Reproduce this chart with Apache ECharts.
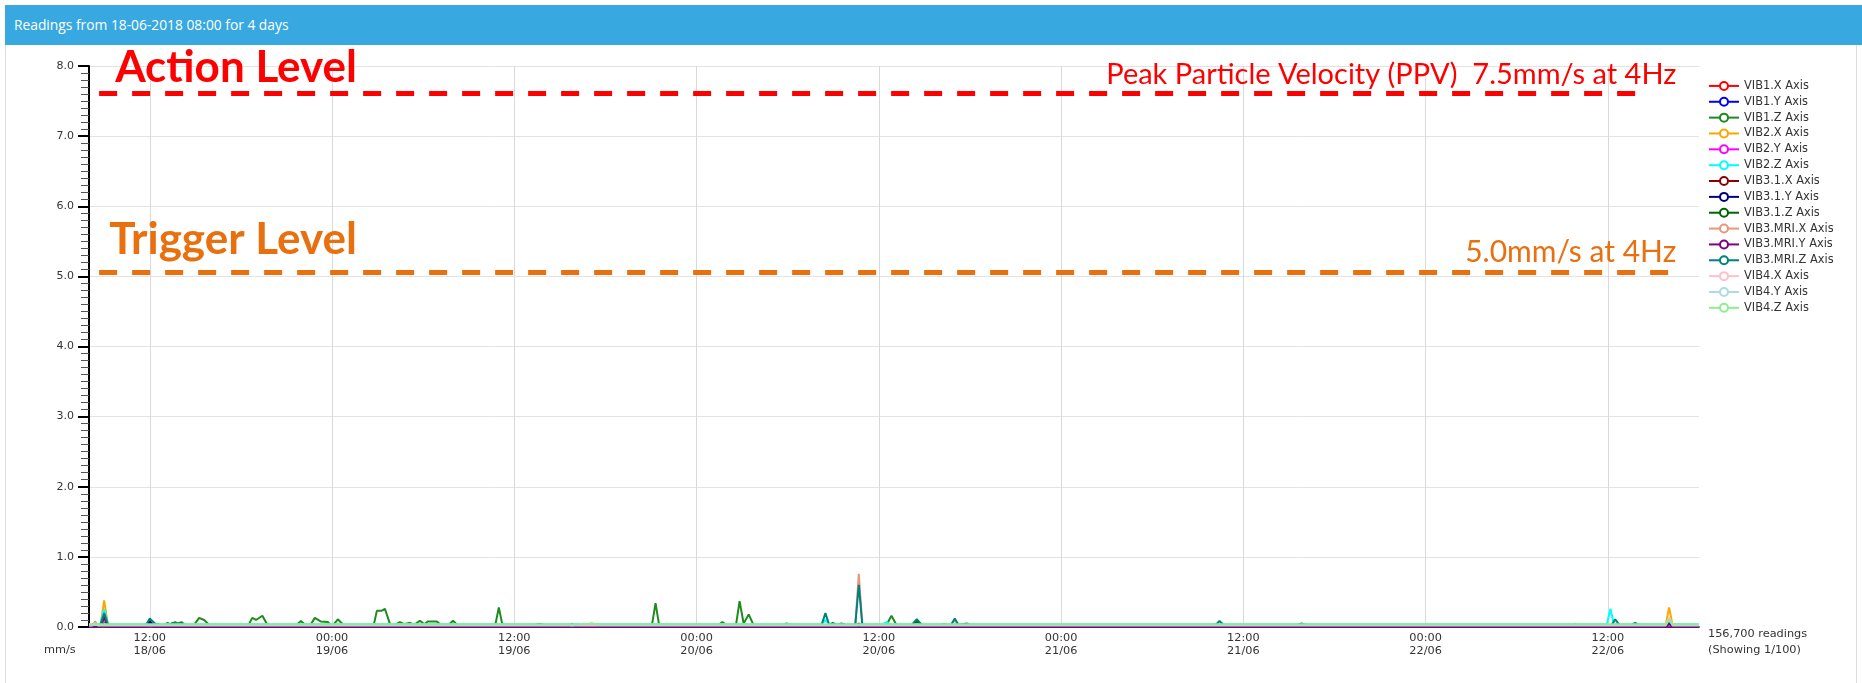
<!DOCTYPE html>
<html><head><meta charset="utf-8">
<script src="https://cdn.jsdelivr.net/npm/echarts@6/dist/echarts.min.js"></script>
<style>
html,body{margin:0;padding:0;background:#fff;width:1862px;height:683px;overflow:hidden;}
#panel{position:absolute;left:5px;top:5px;width:1852px;height:700px;border:1px solid #dcdcdc;box-sizing:border-box;}
#hdr{position:absolute;left:5px;top:5px;width:1857px;height:40px;background:#38a9e0;color:#fff;font:13.8px 'Open Sans',sans-serif;line-height:39px;padding-left:9px;box-sizing:border-box;}
#chart{position:absolute;left:0;top:0;width:1862px;height:683px;}
</style></head>
<body><div id="panel"></div><div id="hdr">Readings from 18-06-2018 08:00 for 4 days</div><div id="chart"></div>
<script>
// ---- data (times are "DD HH:mm" in June 2018) ----
const seriesNames = ['VIB1.X Axis','VIB1.Y Axis','VIB1.Z Axis','VIB2.X Axis','VIB2.Y Axis','VIB2.Z Axis','VIB3.1.X Axis','VIB3.1.Y Axis','VIB3.1.Z Axis','VIB3.MRI.X Axis','VIB3.MRI.Y Axis','VIB3.MRI.Z Axis','VIB4.X Axis','VIB4.Y Axis','VIB4.Z Axis'];
const seriesColors = ['#ff0000','#0000ff','#1f8a1f','#ffa500','#ff00ff','#00ffff','#8b0000','#000080','#006400','#e9967a','#800080','#008080','#ffc0cb','#add8e6','#90ee90'];
const xTickTimes = ['18 12:00','19 00:00','19 12:00','20 00:00','20 12:00','21 00:00','21 12:00','22 00:00','22 12:00'];
const xRange = ['18 08:00','22 18:00'];
const actionLevel = 7.61, triggerLevel = 5.06;

const vib1x = [['18 08:00',0.02],['20 10:30',0.02],['20 10:41',0.04],['20 10:52',0.02],['22 18:00',0.02]];
const vib1y = [['18 08:00',0.01],['22 18:00',0.01]];
const vib1z = [['18 08:00',0.03],
 ['18 13:00',0.03],['18 13:10',0.06],['18 13:25',0.03],['18 13:40',0.07],['18 13:55',0.04],['18 14:05',0.07],['18 14:20',0.03],
 ['18 14:55',0.03],['18 15:15',0.13],['18 15:35',0.1],['18 15:55',0.03],
 ['18 18:30',0.03],['18 18:45',0.13],['18 19:00',0.1],['18 19:25',0.16],['18 19:45',0.03],
 ['18 21:40',0.03],['18 21:57',0.085],['18 22:15',0.03],
 ['18 22:35',0.03],['18 22:52',0.13],['18 23:15',0.08],['18 23:44',0.07],['18 23:55',0.03],
 ['19 00:05',0.03],['19 00:23',0.11],['19 00:45',0.03],
 ['19 02:45',0.03],['19 02:57',0.23],['19 03:15',0.23],['19 03:29',0.26],['19 03:50',0.03],
 ['19 04:10',0.03],['19 04:28',0.07],['19 04:45',0.04],['19 05:08',0.06],['19 05:25',0.03],['19 05:47',0.09],['19 06:05',0.04],['19 06:18',0.08],['19 06:54',0.08],['19 07:10',0.03],
 ['19 07:40',0.03],['19 07:58',0.09],['19 08:15',0.03],
 ['19 10:45',0.03],['19 10:59',0.28],['19 11:13',0.03],
 ['19 21:04',0.03],['19 21:18',0.34],['19 21:32',0.03],
 ['20 01:28',0.03],['20 01:42',0.07],['20 01:56',0.03],
 ['20 02:36',0.03],['20 02:50',0.37],['20 03:06',0.05],['20 03:26',0.18],['20 03:45',0.03],
 ['20 05:40',0.03],['20 05:56',0.05],['20 06:10',0.03],
 ['20 12:30',0.03],['20 12:50',0.16],['20 13:10',0.03],
 ['20 14:15',0.03],['20 14:30',0.08],['20 14:45',0.03],
 ['22 18:00',0.03]];
const vib2x = [['18 08:00',0.02],['18 08:45',0.02],['18 09:00',0.38],['18 09:15',0.02],
 ['19 12:45',0.02],['19 13:00',0.04],['19 13:15',0.02],
 ['22 09:40',0.02],['22 09:52',0.05],['22 10:05',0.02],
 ['22 15:48',0.02],['22 16:02',0.28],['22 16:16',0.02],['22 18:00',0.02]];
const vib2y = [['18 08:00',0.01],['18 08:48',0.01],['18 09:00',0.13],['18 09:12',0.01],['22 18:00',0.01]];
const vib2z = [['18 08:00',0.04],['18 08:45',0.04],['18 09:00',0.25],['18 09:15',0.04],
 ['18 11:50',0.04],['18 12:05',0.07],['18 12:20',0.04],
 ['20 08:15',0.04],['20 08:29',0.1],['20 08:44',0.04],
 ['20 12:15',0.04],['20 12:30',0.07],['20 12:45',0.04],
 ['22 11:56',0.04],['22 12:10',0.26],['22 12:24',0.04],['22 18:00',0.04]];
const vib31x = [['18 08:00',0.01],['18 11:50',0.01],['18 12:00',0.05],['18 12:10',0.01],['22 18:00',0.01]];
const vib31y = [['18 08:00',0.01],['18 08:48',0.01],['18 09:00',0.1],['18 09:12',0.01],['18 11:48',0.01],['18 12:00',0.09],['18 12:15',0.01],['22 18:00',0.01]];
const vib31z = [['18 08:00',0.03],['19 13:25',0.03],['19 13:40',0.045],['19 13:55',0.03],['20 14:12',0.03],['20 14:30',0.08],['20 14:48',0.03],['22 18:00',0.03]];
const vibMrix = [['18 08:00',0.02],['18 08:15',0.02],['18 08:24',0.08],['18 08:35',0.02],['18 08:48',0.02],['18 09:00',0.1],['18 09:12',0.02],
 ['20 10:27',0.02],['20 10:41',0.76],['20 10:55',0.02],
 ['20 16:45',0.02],['20 17:00',0.1],['20 17:15',0.02],['22 18:00',0.02]];
const vibMriy = [['18 08:00',0.01],['18 08:48',0.01],['18 09:00',0.15],['18 09:12',0.01],
 ['19 15:35',0.01],['19 15:48',0.04],['19 16:00',0.01],
 ['20 10:30',0.01],['20 10:41',0.05],['20 10:52',0.01],
 ['22 15:52',0.01],['22 16:02',0.05],['22 16:12',0.01],['22 18:00',0.01]];
const vibMriz = [['18 08:00',0.03],['18 08:45',0.03],['18 09:00',0.2],['18 09:15',0.03],
 ['18 11:45',0.03],['18 12:00',0.12],['18 12:20',0.05],['18 12:40',0.03],
 ['18 13:15',0.03],['18 13:30',0.06],['18 13:45',0.04],['18 14:00',0.06],['18 14:15',0.03],
 ['20 08:14',0.03],['20 08:29',0.2],['20 08:44',0.03],['20 08:58',0.06],['20 09:15',0.03],['20 09:33',0.05],['20 09:50',0.03],
 ['20 10:27',0.03],['20 10:41',0.6],['20 10:55',0.03],
 ['20 14:10',0.03],['20 14:30',0.11],['20 14:50',0.03],
 ['20 16:05',0.03],['20 16:18',0.04],['20 16:30',0.03],
 ['20 16:45',0.03],['20 17:00',0.12],['20 17:15',0.03],['20 17:47',0.05],['20 18:00',0.03],
 ['21 10:10',0.03],['21 10:26',0.085],['21 10:42',0.03],
 ['21 15:35',0.03],['21 15:50',0.05],['21 16:05',0.03],
 ['22 12:15',0.03],['22 12:29',0.11],['22 12:45',0.03],
 ['22 13:35',0.03],['22 13:48',0.06],['22 14:00',0.03],
 ['22 15:50',0.03],['22 16:02',0.09],['22 16:15',0.03],['22 18:00',0.03]];
const vib4x = [['18 08:00',0.02],['18 08:12',0.02],['18 08:24',0.05],['18 08:36',0.02],['22 15:48',0.02],['22 16:02',0.14],['22 16:16',0.02],['22 18:00',0.02]];
const vib4y = [['18 08:00',0.03],['19 16:20',0.03],['19 16:35',0.05],['19 16:50',0.03],['19 17:05',0.05],['19 17:25',0.03],['22 15:48',0.03],['22 16:02',0.1],['22 16:16',0.03],['22 18:00',0.03]];
const vib4z = [['18 08:00',0.04],['19 16:50',0.04],['19 17:05',0.055],['19 17:20',0.04],['22 15:48',0.04],['22 16:02',0.11],['22 16:16',0.04],['22 18:00',0.04]];

const seriesData = [vib1x,vib1y,vib1z,vib2x,vib2y,vib2z,vib31x,vib31y,vib31z,vibMrix,vibMriy,vibMriz,vib4x,vib4y,vib4z];

// ---- helpers: x axis in hours since 2018-06-18 00:00 ----
const H = s => { const [d, hm] = s.split(' '); const [h, m] = hm.split(':').map(Number); return (Number(d) - 18) * 24 + h + m / 60; };
const pad = n => (n < 10 ? '0' : '') + n;
const xTickVals = xTickTimes.map(H);
const fmtX = v => { const tot = Math.round(v * 60); const d = 18 + Math.floor(tot / 1440); const r = tot % 1440; return pad(Math.floor(r / 60)) + ':' + pad(r % 60) + '\n' + pad(d) + '/06'; };
const RED = '#ff0000', ORANGE = '#e8700e', CLEAR = 'rgba(0,0,0,0)';
const dash = [18, 15];

const levelLines = [
  [{coord:[H('18 08:40'), actionLevel], lineStyle:{color:RED,width:5,type:dash},
    label:{show:true, position:'insideEndTop', formatter:'Peak Particle Velocity (PPV)  7.5mm/s at 4Hz', color:RED, fontFamily:'Lato', fontSize:29, lineHeight:29, distance:[-29,4]}},
   {coord:[H('22 14:36'), actionLevel]}],
  [{coord:[H('18 08:40'), actionLevel], lineStyle:{color:CLEAR,width:1,type:'solid'},
    label:{show:true, position:'insideStartTop', formatter:'Action Level', color:RED, fontFamily:'Lato', fontWeight:'bold', fontSize:44, lineHeight:44, distance:[16,4]}},
   {coord:[H('22 14:36'), actionLevel]}],
  [{coord:[H('18 08:40'), triggerLevel], lineStyle:{color:ORANGE,width:5,type:dash},
    label:{show:true, position:'insideEndTop', formatter:'5.0mm/s at 4Hz', color:ORANGE, fontFamily:'Lato', fontSize:30, lineHeight:30, distance:[-2,5]}},
   {coord:[H('22 16:22'), triggerLevel]}],
  [{coord:[H('18 08:40'), triggerLevel], lineStyle:{color:CLEAR,width:1,type:'solid'},
    label:{show:true, position:'insideStartTop', formatter:'Trigger Level', color:ORANGE, fontFamily:'Lato', fontWeight:'bold', fontSize:44, lineHeight:44, distance:[10,10]}},
   {coord:[H('22 16:22'), triggerLevel]}]
];

const series = seriesNames.map((name, i) => ({
  type:'line', name, color:seriesColors[i],
  data: seriesData[i].map(p => [H(p[0]), p[1]]),
  showSymbol:false, symbol:'emptyCircle', symbolSize:6,
  lineStyle:{width:2, color:seriesColors[i]},
  itemStyle:{color:seriesColors[i]},
  silent:true, animation:false
}));
series[0].markLine = {silent:true, animation:false, symbol:['none','none'], data:levelLines};

const chart = echarts.init(document.getElementById('chart'), null, {renderer:'canvas'});
chart.setOption({
  animation:false,
  textStyle:{fontFamily:'DejaVu Sans'},
  grid:{left:89, right:163, top:66, bottom:56},
  legend:{orient:'vertical', left:1703, top:73, itemWidth:30, itemHeight:10, itemGap:0,
    data:seriesNames, selectedMode:false,
    textStyle:{fontSize:11.4, fontFamily:'DejaVu Sans', color:'#333', lineHeight:15.85}},
  xAxis:{type:'value', min:H(xRange[0]), max:H(xRange[1]),
    axisLine:{show:true, lineStyle:{color:'#555', width:2}},
    axisTick:{show:false, customValues:xTickVals},
    axisLabel:{customValues:xTickVals, color:'#333', fontSize:11.3, fontFamily:'DejaVu Sans', lineHeight:13, margin:5, formatter:fmtX},
    splitLine:{show:true, lineStyle:{color:'#d9d9d9', width:1}}},
  yAxis:{type:'value', min:0, max:8, interval:1,
    axisLine:{show:true, lineStyle:{color:'#000', width:2}},
    axisTick:{show:true, length:11, lineStyle:{color:'#000', width:2}},
    minorTick:{show:true, splitNumber:10, length:8, lineStyle:{color:'#555', width:1}},
    axisLabel:{formatter:v => v.toFixed(1), margin:15, color:'#333', fontSize:11, fontFamily:'DejaVu Sans'},
    splitLine:{show:true, lineStyle:{color:'#e3e3e3', width:1}}},
  graphic:[
    {type:'text', left:44, top:645, style:{text:'mm/s', font:'11.3px "DejaVu Sans"', fill:'#333'}},
    {type:'text', left:1708, top:626, style:{text:'156,700 readings\n(Showing 1/100)', font:'11.3px "DejaVu Sans"', fill:'#333', lineHeight:16}}
  ],
  series
});
</script></body></html>
